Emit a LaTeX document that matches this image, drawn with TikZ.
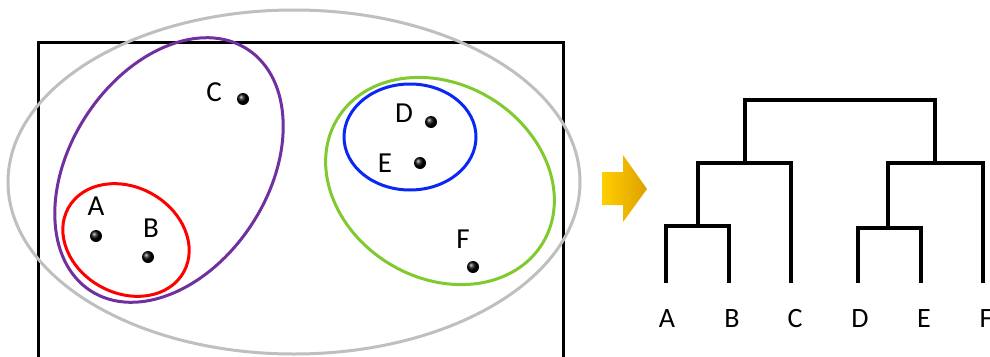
\documentclass[tikz,border=0pt]{standalone}
\usepackage{fontspec}
\setmainfont{Carlito}
\definecolor{clGray}{RGB}{191,191,191}
\definecolor{clPurple}{RGB}{112,48,160}
\definecolor{clRed}{RGB}{255,0,0}
\definecolor{clGreen}{RGB}{128,202,48}
\definecolor{clBlue}{RGB}{10,40,245}
\definecolor{arrowL}{RGB}{255,206,0}
\definecolor{arrowR}{RGB}{222,160,0}
\begin{document}
\begin{tikzpicture}[x=1pt,y=-1pt,line width=3pt,font=\fontsize{29}{31}\selectfont]
  \useasboundingbox (0,0) rectangle (990,356);

  % 数据点
  \coordinate (A) at (96,236);
  \coordinate (B) at (148,257);
  \coordinate (C) at (243,99);
  \coordinate (D) at (431,122);
  \coordinate (E) at (420,163);
  \coordinate (F) at (473,267);

  % 外框
  \draw (38,358) -- (38,42) -- (563,42) -- (563,358);

  % 聚类椭圆
  \draw[clGray] (294,182) ellipse (286pt and 172pt);
  \draw[clPurple, rotate around={57:(169,170)}] (169,170) ellipse (144pt and 99pt);
  \draw[clRed, rotate around={-29:(126,240)}] (126,240) ellipse (66pt and 53pt);
  \draw[clGreen, rotate around={-31:(440,181)}] (440,181) ellipse (120pt and 97pt);
  \draw[clBlue] (410,137) ellipse (66pt and 53pt);

  % 点
  \foreach \p in {A,B,C,D,E,F}
    \shade[ball color=black] (\p) circle (6pt);

  % 点标注
  \node (labA) at (96,206) {A};
  \node (labB) at (151,228) {B};
  \node (labC) at (214,92) {C};
  \node (labD) at (404,113) {D};
  \node (labE) at (385,163) {E};
  \node (labF) at (463,239) {F};

  % 箭头
  \shade[left color=arrowL, right color=arrowR]
    (602,172) -- (623,172) -- (623,155) -- (647,189) -- (623,222) -- (623,205) -- (602,205) -- cycle;

  % 树状图
  \begin{scope}[line width=4pt,font=\fontsize{28}{30}\selectfont]
    \node (tA) at (667,319) {A};
    \node (tB) at (732,319) {B};
    \node (tC) at (795,319) {C};
    \node (tD) at (860,319) {D};
    \node (tE) at (924,319) {E};
    \node (tF) at (986,319) {F};

    \coordinate (lA) at (666,283);
    \coordinate (lB) at (729,283);
    \coordinate (lC) at (791,283);
    \coordinate (lD) at (858,283);
    \coordinate (lE) at (921,283);
    \coordinate (lF) at (983,283);

    \coordinate (mAB) at (698,226);
    \coordinate (mDE) at (888,228);
    \coordinate (mABC) at (745,163);
    \coordinate (mDEF) at (935,163);
    \coordinate (root) at (840,100);

    \draw (lA) |- (mAB) -| (lB);
    \draw (lD) |- (mDE) -| (lE);
    \draw (mAB) |- (mABC) -| (lC);
    \draw (mDE) |- (mDEF) -| (lF);
    \draw (mABC) |- (root) -| (mDEF);
  \end{scope}
\end{tikzpicture}
\end{document}
